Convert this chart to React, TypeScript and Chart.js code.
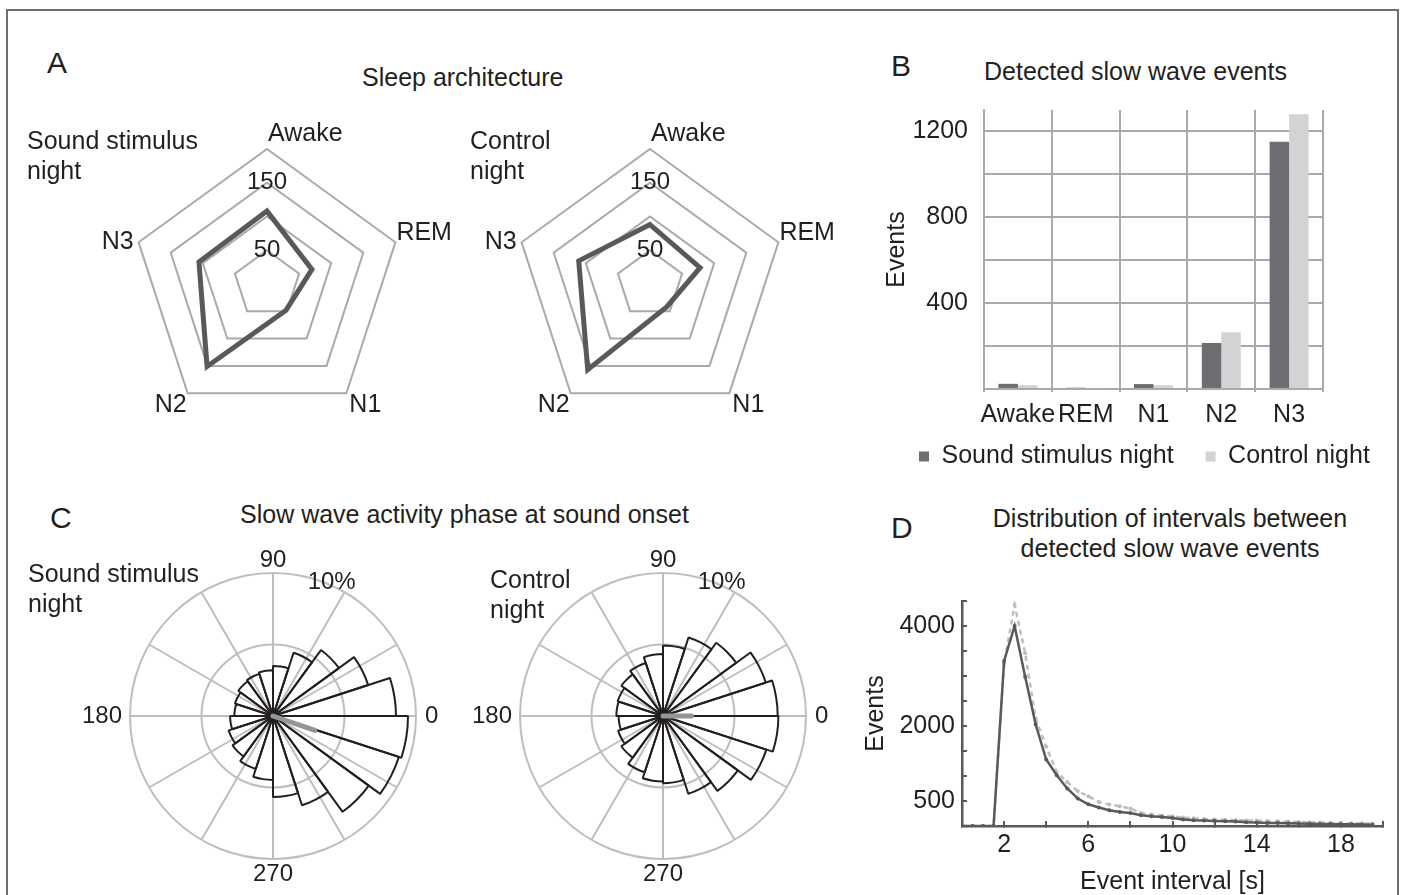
import React, { useEffect, useRef } from 'react';
import { Chart, registerables } from 'chart.js';

Chart.register(...registerables);

const FONT = "'Liberation Sans', Arial, Helvetica, sans-serif";
const INK = '#231f20';
const GRID = '#a7a9ac';
const POLAR_GRID = '#bcbec0';
const DARK = '#58595b';

Chart.defaults.font.family = FONT;
Chart.defaults.color = INK;

// ---------- Panel A: sleep architecture (radar) ----------
const sleepStages = ['Awake', 'REM', 'N1', 'N2', 'N3'];
const archSound = [108, 70, 48, 151, 106];
const archControl = [88, 78, 42, 157, 111];
const archTickLabels = [50, 150];

// ---------- Panel B: detected slow wave events (bars) ----------
const eventStages = ['Awake', 'REM', 'N1', 'N2', 'N3'];
const eventsSound = [24, 6, 23, 214, 1152];
const eventsControl = [18, 4, 18, 265, 1280];
const eventTickLabels = [400, 800, 1200];

// ---------- Panel C: phase at sound onset (rose, 18° bins counter-clockwise from 0°) ----------
const phaseBinsSound = [8.6, 7.0, 5.7, 4.65, 3.5, 3.2, 3.1, 3.0, 2.8, 2.7, 3.0, 3.26, 3.5, 3.9, 4.47, 5.67, 6.56, 8.28, 9.26, 9.44];
const phaseBinsControl = [8.02, 7.56, 6.33, 5.77, 4.93, 4.33, 3.9, 3.6, 3.33, 3.26, 3.1, 3.3, 3.6, 4.14, 4.58, 4.7, 5.72, 6.47, 7.6, 8.07];
const phaseSpokes = ['0', '', '', '270', '', '', '180', '', '', '90', '', ''];
const meanSoundAngle = -19;
const meanSoundLength = 3.1;
const meanControlAngle = 0;
const meanControlLength = 2.0;

// ---------- Panel D: interval distribution (lines) ----------
const intervalX = [0, 0.5, 1, 1.5, 2, 2.5, 3, 3.5, 4, 4.5, 5, 5.5, 6, 6.5, 7, 7.5, 8, 8.5, 9, 9.5, 10, 10.5, 11, 11.5, 12, 12.5, 13, 13.5, 14, 14.5, 15, 15.5, 16, 16.5, 17, 17.5, 18, 18.5, 19, 19.5];
const intervalSound = [0, 0, 0, 0, 3300, 4000, 2985, 2030, 1330, 1015, 750, 550, 435, 370, 315, 280, 260, 215, 195, 180, 160, 130, 115, 108, 100, 94, 88, 75, 68, 62, 60, 55, 48, 46, 40, 40, 35, 33, 28, 27];
const intervalControl = [0, 0, 0, 0, 3250, 4420, 3455, 2150, 1585, 1080, 880, 695, 595, 480, 430, 395, 350, 260, 230, 208, 195, 168, 155, 140, 128, 121, 115, 112, 108, 100, 94, 88, 80, 75, 68, 62, 60, 55, 53, 48];
const intervalTickLabels = [2, 6, 10, 14, 18];
const countTickLabels = [500, 2000, 4000];

// ---------- label placement styles (not data) ----------
const radarLabelDx = [1, 1, 3, -1, -5];
const radarLabelDy = [-8, -2, 19, 19, 7];
const radarLabelAlign = ['left', 'left', 'left', 'right', 'right'];

const radarLabelPlugin = {
  id: 'radarLabels',
  afterDraw(chart: any) {
    const r = chart.scales.r;
    const ctx = chart.ctx;
    ctx.save();
    ctx.font = `25px ${FONT}`;
    ctx.fillStyle = INK;
    ctx.textBaseline = 'alphabetic';
    (chart.data.labels as string[]).forEach((lab, i) => {
      const p = r.getPointPosition(i, r.drawingArea);
      ctx.textAlign = radarLabelAlign[i];
      ctx.fillText(lab, p.x + radarLabelDx[i], p.y + radarLabelDy[i]);
    });
    ctx.restore();
  },
};

function radarConfig(values: number[]) {
  return {
    type: 'radar',
    data: {
      labels: sleepStages,
      datasets: [
        {
          data: values,
          borderColor: DARK,
          backgroundColor: 'rgba(0,0,0,0)',
          borderWidth: 5,
          borderJoinStyle: 'miter',
          pointRadius: 0,
          pointHoverRadius: 0,
          fill: false,
        },
      ],
    },
    options: {
      responsive: false,
      animation: false,
      events: [],
      layout: { padding: { left: 41, right: 40, top: 25, bottom: 6 } },
      plugins: { legend: { display: false }, tooltip: { enabled: false } },
      scales: {
        r: {
          min: 0,
          max: 200,
          ticks: {
            stepSize: 50,
            showLabelBackdrop: false,
            color: INK,
            font: { family: FONT, size: 24 },
            callback: (v: number) => (archTickLabels.includes(v) ? String(v) : ''),
          },
          grid: { color: GRID, lineWidth: 2 },
          angleLines: { display: false },
          pointLabels: { display: false },
        },
      },
    },
    plugins: [radarLabelPlugin],
  };
}

const polarLabelDx: Record<string, number> = { '0': 9, '270': 0, '180': -8, '90': 0 };
const polarLabelDy: Record<string, number> = { '0': 7, '270': 22, '180': 7, '90': -6 };
const polarLabelAlign: Record<string, string> = { '0': 'left', '270': 'center', '180': 'right', '90': 'center' };

function polarDecor(meanAngle: number, meanLength: number) {
  return {
    id: 'polarDecor',
    afterDatasetsDraw(chart: any) {
      const r = chart.scales.r;
      const ctx = chart.ctx;
      const d = r.getDistanceFromCenterForValue(meanLength);
      const th = (meanAngle * Math.PI) / 180;
      ctx.save();
      ctx.strokeStyle = '#939598';
      ctx.lineWidth = 5;
      ctx.lineCap = 'round';
      ctx.beginPath();
      ctx.moveTo(r.xCenter, r.yCenter);
      ctx.lineTo(r.xCenter + d * Math.cos(th), r.yCenter - d * Math.sin(th));
      ctx.stroke();
      ctx.restore();
    },
    afterDraw(chart: any) {
      const r = chart.scales.r;
      const ctx = chart.ctx;
      ctx.save();
      ctx.font = `24px ${FONT}`;
      ctx.fillStyle = INK;
      ctx.textBaseline = 'alphabetic';
      (chart.data.labels as string[]).forEach((lab, i) => {
        if (!lab) return;
        const p = r.getPointPosition(i, r.drawingArea);
        ctx.textAlign = polarLabelAlign[lab];
        ctx.fillText(lab, p.x + polarLabelDx[lab], p.y + polarLabelDy[lab]);
      });
      const dist = r.getDistanceFromCenterForValue(r.max) + 3;
      const a = (66.3 * Math.PI) / 180;
      ctx.textAlign = 'center';
      ctx.textBaseline = 'middle';
      ctx.fillText(`${r.max}%`, r.xCenter + dist * Math.cos(a), r.yCenter - dist * Math.sin(a));
      ctx.restore();
    },
  };
}

function polarConfig(bins: number[], meanAngle: number, meanLength: number, padLeft: number, padRight: number) {
  return {
    type: 'polarArea',
    data: {
      labels: phaseSpokes,
      datasets: [
        {
          data: bins.slice().reverse(),
          backgroundColor: 'rgba(0,0,0,0)',
          borderColor: INK,
          borderWidth: 2,
        },
      ],
    },
    options: {
      responsive: false,
      animation: false,
      events: [],
      layout: { padding: { left: padLeft, right: padRight, top: 33, bottom: 36 } },
      plugins: { legend: { display: false }, tooltip: { enabled: false } },
      scales: {
        r: {
          min: 0,
          max: 10,
          startAngle: 90,
          ticks: { display: false, stepSize: 5 },
          grid: { circular: true, color: POLAR_GRID, lineWidth: 2 },
          angleLines: { display: true, color: POLAR_GRID, lineWidth: 2 },
          pointLabels: { display: false },
        },
      },
    },
    plugins: [polarDecor(meanAngle, meanLength)],
  };
}

function fixAxis(w: number | null, h: number | null) {
  return (s: any) => {
    if (w !== null) s.width = w;
    if (h !== null) s.height = h;
    s.paddingLeft = 0;
    s.paddingRight = 0;
    s.paddingTop = 0;
    s.paddingBottom = 0;
  };
}

function barConfig() {
  return {
    type: 'bar',
    data: {
      labels: eventStages,
      datasets: [
        { label: 'Sound stimulus night', data: eventsSound, backgroundColor: '#6d6e71', borderWidth: 0 },
        { label: 'Control night', data: eventsControl, backgroundColor: '#d1d3d4', borderWidth: 0 },
      ],
    },
    options: {
      responsive: false,
      animation: false,
      events: [],
      layout: { padding: { left: 27, top: 15, right: 0, bottom: 0 } },
      datasets: { bar: { categoryPercentage: 0.575, barPercentage: 1 } },
      plugins: {
        legend: {
          position: 'bottom',
          align: 'start',
          labels: { boxWidth: 10, boxHeight: 10, padding: 32, color: INK, font: { family: FONT, size: 25 } },
        },
        tooltip: { enabled: false },
      },
      scales: {
        x: {
          grid: { color: GRID, lineWidth: 2, offset: true, drawTicks: true, tickLength: 3 },
          border: { color: GRID, width: 2 },
          ticks: { color: INK, font: { family: FONT, size: 25 }, mirror: true, padding: -41, maxRotation: 0, autoSkip: false },
          afterFit: fixAxis(null, 23),
        },
        y: {
          min: 0,
          max: 1300,
          ticks: {
            stepSize: 200,
            includeBounds: false,
            color: INK,
            font: { family: FONT, size: 25 },
            padding: 16,
            autoSkip: false,
            callback: (v: number) => (eventTickLabels.includes(v) ? String(v) : ''),
          },
          grid: { color: GRID, lineWidth: 2, drawTicks: false },
          border: { color: GRID, width: 2 },
          title: { display: true, text: 'Events', color: INK, font: { family: FONT, size: 25, lineHeight: 0.84 }, padding: 0 },
          afterFit: fixAxis(97, null),
        },
        y2: {
          position: 'right',
          display: true,
          grid: { display: false },
          ticks: { display: false },
          border: { display: false },
          afterFit: fixAxis(97, null),
        },
      },
    },
  };
}

function lineConfig() {
  return {
    type: 'line',
    data: {
      datasets: [
        {
          label: 'Sound stimulus night',
          data: intervalX.map((x, i) => ({ x, y: intervalSound[i] })),
          borderColor: DARK,
          backgroundColor: DARK,
          borderWidth: 2.5,
          pointRadius: 2,
          pointBorderWidth: 0,
          tension: 0,
        },
        {
          label: 'Control night',
          data: intervalX.map((x, i) => ({ x, y: intervalControl[i] })),
          borderColor: '#bcbec0',
          backgroundColor: '#bcbec0',
          borderWidth: 2.5,
          borderDash: [5, 4],
          pointRadius: 2,
          pointBorderWidth: 0,
          tension: 0,
        },
      ],
    },
    options: {
      responsive: false,
      animation: false,
      events: [],
      layout: { padding: { left: 4, right: 20, top: 21, bottom: 0 } },
      plugins: { legend: { display: false }, tooltip: { enabled: false } },
      scales: {
        x: {
          type: 'linear',
          min: 0,
          max: 20,
          ticks: {
            stepSize: 2,
            color: INK,
            font: { family: FONT, size: 25 },
            padding: 9,
            maxRotation: 0,
            autoSkip: false,
            callback: (v: number) => (intervalTickLabels.includes(v) ? String(v) : ''),
          },
          grid: { drawOnChartArea: false, drawTicks: true, tickLength: -5, color: DARK, lineWidth: 2 },
          border: { color: DARK, width: 2.5 },
          title: {
            display: true,
            text: 'Event interval [s]',
            color: INK,
            font: { family: FONT, size: 25, lineHeight: 1 },
            padding: { top: 0, bottom: 1 },
          },
          afterFit: fixAxis(null, 70),
        },
        y: {
          min: 0,
          max: 4500,
          ticks: {
            stepSize: 500,
            color: INK,
            font: { family: FONT, size: 25 },
            padding: 12,
            autoSkip: false,
            callback: (v: number) => (countTickLabels.includes(v) ? String(v) : ''),
          },
          grid: { drawOnChartArea: false, drawTicks: true, tickLength: -5, color: DARK, lineWidth: 2 },
          border: { color: DARK, width: 2.5 },
          title: { display: true, text: 'Events', color: INK, font: { family: FONT, size: 25, lineHeight: 1 }, padding: 0 },
          afterFit: fixAxis(98, null),
        },
      },
    },
  };
}

function ChartCanvas({ left, top, width, height, config }: { left: number; top: number; width: number; height: number; config: () => any }) {
  const ref = useRef<HTMLCanvasElement | null>(null);
  useEffect(() => {
    if (!ref.current) return;
    const chart = new Chart(ref.current, config());
    return () => chart.destroy();
  }, []);
  return (
    <div style={{ position: 'absolute', left, top, width, height }}>
      <canvas ref={ref} width={width} height={height} style={{ display: 'block', width, height }} />
    </div>
  );
}

function Txt({ x, base, size = 25, lines, center = false }: { x: number; base: number; size?: number; lines: string[]; center?: boolean }) {
  const lh = Math.round(size * 1.2);
  const top = base - ((lh - 1.117 * size) / 2 + 0.905 * size);
  const style: React.CSSProperties = {
    position: 'absolute',
    top,
    fontSize: size,
    lineHeight: `${lh}px`,
    whiteSpace: 'nowrap',
    fontFamily: FONT,
    color: INK,
  };
  if (center) {
    style.left = x - 300;
    style.width = 600;
    style.textAlign = 'center';
  } else {
    style.left = x;
  }
  return (
    <div style={style}>
      {lines.map((l, i) => (
        <div key={i}>{l}</div>
      ))}
    </div>
  );
}

export default function App() {
  return (
    <div style={{ position: 'absolute', left: 0, top: 0, width: 1403, height: 895, overflow: 'hidden', background: '#ffffff', fontFamily: FONT }}>
      <div
        style={{
          position: 'absolute',
          left: 6,
          top: 9,
          width: 1389,
          height: 900,
          borderTop: '2px solid #6d6e71',
          borderLeft: '2px solid #6d6e71',
          borderRight: '2px solid #6d6e71',
        }}
      />
      <ChartCanvas left={77} top={110} width={380} height={330} config={() => radarConfig(archSound)} />
      <ChartCanvas left={460} top={110} width={380} height={330} config={() => radarConfig(archControl)} />
      <ChartCanvas left={860} top={95} width={560} height={384} config={barConfig} />
      <ChartCanvas left={60} top={540} width={400} height={355} config={() => polarConfig(phaseBinsSound, meanSoundAngle, meanSoundLength, 70, 44)} />
      <ChartCanvas left={465} top={540} width={395} height={355} config={() => polarConfig(phaseBinsControl, meanControlAngle, meanControlLength, 55, 54)} />
      <ChartCanvas left={860} top={580} width={543} height={316} config={lineConfig} />

      <Txt x={47} base={73} size={30} lines={['A']} />
      <Txt x={362} base={86} lines={['Sleep architecture']} />
      <Txt x={27} base={148.3} lines={['Sound stimulus', 'night']} />
      <Txt x={470} base={148.3} lines={['Control', 'night']} />

      <Txt x={891} base={76} size={30} lines={['B']} />
      <Txt x={984} base={80} lines={['Detected slow wave events']} />

      <Txt x={50} base={528} size={30} lines={['C']} />
      <Txt x={240} base={523} lines={['Slow wave activity phase at sound onset']} />
      <Txt x={28} base={582} lines={['Sound stimulus', 'night']} />
      <Txt x={490} base={588} lines={['Control', 'night']} />

      <Txt x={891} base={538} size={30} lines={['D']} />
      <Txt x={1170} base={527} center lines={['Distribution of intervals between', 'detected slow wave events']} />
    </div>
  );
}
